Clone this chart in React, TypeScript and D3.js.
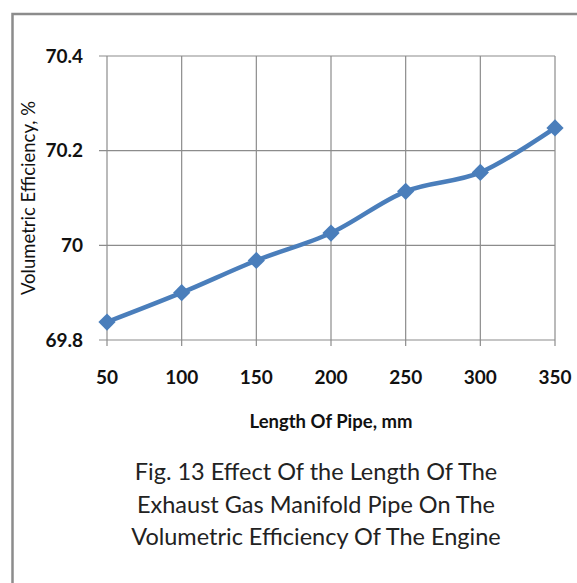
import React from 'react';
import * as d3 from 'd3';

const lengths = [50, 100, 150, 200, 250, 300, 350];
const efficiency = [69.838, 69.9, 69.968, 70.026, 70.114, 70.154, 70.248];
const yTicks = [69.8, 70, 70.2, 70.4];
const captionLines = [
  'Fig. 13 Effect Of the Length Of The',
  'Exhaust Gas Manifold Pipe On The',
  'Volumetric Efficiency Of The Engine',
];

const W = 577;
const H = 583;
const plot = { left: 107, right: 555, top: 56, bottom: 340 };
const font = 'Lato, "Open Sans", sans-serif';
const grid = '#8c8c8c';
const blue = '#4a7ebb';

const App = () => {
  const x = d3.scaleLinear().domain([50, 350]).range([plot.left, plot.right]);
  const y = d3.scaleLinear().domain([69.8, 70.4]).range([plot.bottom, plot.top]);

  const line = d3
    .line<number>()
    .x((d, i) => x(lengths[i]))
    .y(d => y(d))
    .curve(d3.curveCatmullRom.alpha(0));

  const diamond = d3.symbol().type(d3.symbolDiamond2).size(190)();

  return (
    <svg
      width={W}
      height={H}
      style={{ position: 'absolute', left: 0, top: 0, background: '#fff' }}
    >
      <rect x={12.5} y={14} width={700} height={700} fill="#fff" stroke={grid} strokeWidth={2.5} />

      {/* horizontal grid + ticks */}
      {yTicks.map(t => (
        <g key={'y' + t}>
          <line x1={plot.left - 8} x2={plot.right} y1={y(t)} y2={y(t)} stroke={grid} strokeWidth={1.2} />
          <text
            x={plot.left - 24}
            y={y(t)}
            dy="0.35em"
            textAnchor="end"
            fontFamily={font}
            fontSize={19}
            fontWeight="bold"
            fill="#111"
          >
            {t === 70 ? '70' : t.toFixed(1)}
          </text>
        </g>
      ))}

      {/* vertical grid + ticks */}
      {lengths.map(v => (
        <g key={'x' + v}>
          <line x1={x(v)} x2={x(v)} y1={plot.top} y2={plot.bottom + 6} stroke={grid} strokeWidth={1.2} />
          <text
            x={x(v)}
            y={377}
            dy="0.35em"
            textAnchor="middle"
            fontFamily={font}
            fontSize={19}
            fontWeight="bold"
            fill="#111"
          >
            {v}
          </text>
        </g>
      ))}

      <path d={line(efficiency) || ''} fill="none" stroke={blue} strokeWidth={4.5} strokeLinejoin="round" />
      {efficiency.map((d, i) => (
        <path key={'m' + i} d={diamond || ''} transform={`translate(${x(lengths[i])},${y(d)})`} fill={blue} />
      ))}

      <text
        x={331}
        y={422}
        dy="0.35em"
        textAnchor="middle"
        fontFamily={font}
        fontSize={18.5}
        fontWeight="bold"
        fill="#111"
      >
        Length Of Pipe, mm
      </text>
      <text
        transform={`translate(29,${(plot.top + plot.bottom) / 2}) rotate(-90)`}
        dy="0.35em"
        textAnchor="middle"
        fontFamily={font}
        fontSize={18.5}
        fill="#111"
      >
        Volumetric Efficiency, %
      </text>

      {captionLines.map((s, i) => (
        <text
          key={'c' + i}
          x={316}
          y={480 + i * 32.5}
          textAnchor="middle"
          fontFamily={font}
          fontSize={23.5}
          fill="#222"
        >
          {s}
        </text>
      ))}
    </svg>
  );
};

export default App;
